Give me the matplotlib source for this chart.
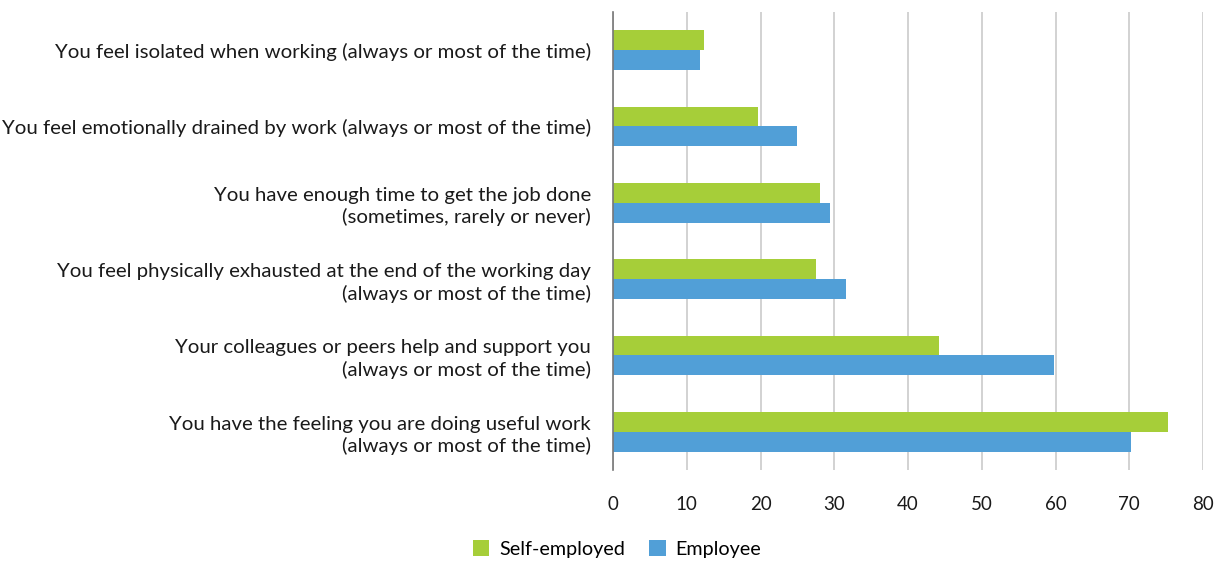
import numpy as np
from matplotlib import pyplot as plt

# categories, top to bottom
labels = [
    "You feel isolated when working (always or most of the time)",
    "You feel emotionally drained by work (always or most of the time)",
    "You have enough time to get the job done\n(sometimes, rarely or never)",
    "You feel physically exhausted at the end of the working day\n(always or most of the time)",
    "Your colleagues or peers help and support you\n(always or most of the time)",
    "You have the feeling you are doing useful work\n(always or most of the time)",
]
self_employed = [12.3, 19.6, 28.1, 27.5, 44.2, 75.3]
employee = [11.8, 24.9, 29.4, 31.6, 59.8, 70.3]
xticks = [0, 10, 20, 30, 40, 50, 60, 70, 80]

green = "#A6CE39"
blue = "#519FD7"

plt.rcParams['font.family'] = ['Lato', 'DejaVu Sans']

fig = plt.figure(figsize=(12.22, 5.63), dpi=100)
ax = fig.add_axes([613/1222, 1-470/563, 590/1222, 458/563])

y = np.arange(len(labels))
h = 0.26
b1 = ax.barh(y - h/2, self_employed, height=h, color=green, label="Self-employed", zorder=3)
b2 = ax.barh(y + h/2, employee, height=h, color=blue, label="Employee", zorder=3)

ax.set_ylim(len(labels) - 0.5, -0.5)
ax.set_xlim(0, 80)
ax.set_xticks(xticks)
ax.set_yticks(y)
ax.set_yticklabels(labels, fontsize=14.7, color="#1a1a1a", ha='right',
                   multialignment='right', linespacing=1.3)
ax.tick_params(axis='x', labelsize=13.5, colors="#1a1a1a", length=0, pad=19)
ax.tick_params(axis='y', length=0, pad=16)
ax.xaxis.grid(True, color="#CFCFCF", linewidth=1.3, zorder=0)
for s in ['top', 'right', 'bottom']:
    ax.spines[s].set_visible(False)
ax.spines['left'].set_color("#777777")
ax.spines['left'].set_linewidth(1.2)
ax.spines['left'].set_zorder(4)

fig.legend(handles=[b1, b2], loc='center', bbox_to_anchor=(617/1222, 1-549/563),
           ncol=2, frameon=False, fontsize=14.2, handlelength=0.85, handleheight=0.85,
           handletextpad=0.5, columnspacing=1.2)

plt.savefig("out.png", dpi=100)
